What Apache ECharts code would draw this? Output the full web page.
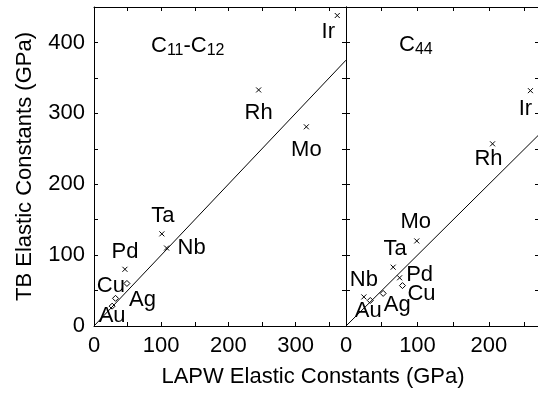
<!DOCTYPE html>
<html><head><meta charset="utf-8">
<script src="https://cdn.jsdelivr.net/npm/echarts@6/dist/echarts.min.js"></script>
<style>html,body{margin:0;padding:0;background:#fff}#c{width:538px;height:394px}</style>
</head><body><div id="c"></div>
<script>
// ---- data ----
const c11Elements = ['Ir','Rh','Mo','Ta','Nb','Pd','Cu','Ag','Au'];
const c11LAPW     = [362, 245, 316, 101, 108, 46, 49, 32, 27];
const c11TB       = [438, 333, 281, 130, 110, 80, 60, 39, 28];
const c44Elements = ['Ir','Rh','Mo','Ta','Pd','Cu','Ag','Nb','Au'];
const c44LAPW     = [258, 205, 99, 66, 75, 79, 52, 25, 34];
const c44TB       = [332, 257, 120, 83, 68, 57, 46, 41, 36];
const diamondElements = ['Cu','Ag','Au'];
const yTickLabels = [0, 100, 200, 300, 400];
const xTickLabelsLeft = [0, 100, 200, 300];
const xTickLabelsRight = [0, 100, 200];
const panelTitles = ['{c|C}{s|11}{c|-C}{s|12}', '{c|C}{s|44}'];

// ---- style (label offsets in px) ----
const leftOffsets = {Ir:[-9,16], Rh:[0,23], Mo:[0,23], Ta:[1,-18], Nb:[25,0], Pd:[0,-17], Cu:[-16,2], Ag:[27,2], Au:[0,10]};
const rightOffsets = {Ir:[-5,18], Rh:[-4,15], Mo:[-1,-19], Ta:[2,-18], Pd:[20,-3], Cu:[19,8], Ag:[14,12], Nb:[0,-17], Au:[-2,10]};

const FONT = 'Liberation Sans, Arial, Helvetica, sans-serif';
const X_PATH = 'path://M0,0L10,10M10,0L0,10';

function points(names, xs, ys, offsets) {
  return names.map((n, i) => {
    const dia = diamondElements.includes(n);
    return {
      name: n,
      value: [xs[i], ys[i]],
      symbol: dia ? 'diamond' : X_PATH,
      symbolSize: dia ? 6 : 5,
      itemStyle: dia ? {color:'#fff', borderColor:'#000', borderWidth:1, opacity: 1}
                     : {color:'none', borderColor:'#000', borderWidth:1, opacity: 1},
      label: {offset: offsets[n], color: '#000'}
    };
  });
}

function xAx(grid, max, pos, labels) {
  return {
    gridIndex: grid, type: 'value', min: 0, max: max, interval: 50, position: pos,
    axisLine: {onZero: false, lineStyle: {color: '#000', width: 1}},
    axisTick: {inside: true, length: 4, lineStyle: {color: '#000'}},
    axisLabel: labels ? {show: true, color: '#000', fontSize: 22, fontFamily: FONT, margin: 9,
      showMinLabel: true, showMaxLabel: true, hideOverlap: false,
      formatter: v => labels.includes(v) ? String(v) : ''} : {show: false},
    splitLine: {show: false}
  };
}
function yAx(grid, pos, labels, name) {
  const a = {
    gridIndex: grid, type: 'value', min: 0, max: 450, interval: 50, position: pos,
    axisLine: {onZero: false, lineStyle: {color: '#000', width: 1}},
    axisTick: {inside: true, length: 4, lineStyle: {color: '#000'}},
    axisLabel: labels ? {show: true, color: '#000', fontSize: 22, fontFamily: FONT, margin: 9,
      showMinLabel: true, showMaxLabel: true, hideOverlap: false,
      formatter: v => labels.includes(v) ? String(v) : ''} : {show: false},
    splitLine: {show: false}
  };
  if (name) {
    a.name = name; a.nameLocation = 'middle'; a.nameGap = 58;
    a.nameTextStyle = {color: '#000', fontSize: 22, fontFamily: FONT};
  }
  return a;
}

const labelStyle = {show: true, position: 'inside', formatter: '{b}', color: '#000',
  textBorderWidth: 0, fontSize: 22, fontFamily: FONT, align: 'center', verticalAlign: 'middle'};
const richT = {
  c: {fontSize: 22, fontFamily: FONT, fontWeight: 'normal', color: '#000', lineHeight: 26},
  s: {fontSize: 16, fontFamily: FONT, fontWeight: 'normal', color: '#000', lineHeight: 14, verticalAlign: 'bottom'}
};
const titleStyle = {color: '#000', fontWeight: 'normal', fontFamily: FONT, rich: richT};

const chart = echarts.init(document.getElementById('c'), null, {renderer: 'canvas'});
chart.setOption({
  animation: false,
  backgroundColor: '#fff',
  title: [
    {text: panelTitles[0], left: 146, top: 28, textStyle: titleStyle},
    {text: panelTitles[1], left: 394, top: 27, textStyle: titleStyle}
  ],
  grid: [
    {left: 94, top: 7, width: 252, height: 319, outerBoundsMode: 'none', containLabel: false},
    {left: 346, top: 7, width: 193, height: 319, outerBoundsMode: 'none', containLabel: false}
  ],
  xAxis: [
    xAx(0, 375, 'bottom', xTickLabelsLeft),
    xAx(0, 375, 'top', null),
    xAx(1, 270, 'bottom', xTickLabelsRight),
    xAx(1, 270, 'top', null)
  ],
  yAxis: [
    yAx(0, 'left', yTickLabels, 'TB Elastic Constants (GPa)'),
    yAx(0, 'right', null),
    yAx(1, 'left', null),
    yAx(1, 'right', null)
  ],
  graphic: [{
    type: 'text', x: 313, y: 377,
    style: {text: 'LAPW Elastic Constants (GPa)', fontSize: 22, fontFamily: FONT,
      fill: '#000', align: 'center', verticalAlign: 'middle'}
  }],
  series: [
    {type: 'line', xAxisIndex: 0, yAxisIndex: 0, data: [[0,0],[375,375]], symbol: 'none',
      lineStyle: {color: '#000', width: 1}, silent: true},
    {type: 'line', xAxisIndex: 2, yAxisIndex: 2, data: [[0,0],[270,270]], symbol: 'none',
      lineStyle: {color: '#000', width: 1}, silent: true},
    {type: 'scatter', xAxisIndex: 0, yAxisIndex: 0, label: labelStyle, itemStyle: {opacity: 1},
      data: points(c11Elements, c11LAPW, c11TB, leftOffsets)},
    {type: 'scatter', xAxisIndex: 2, yAxisIndex: 2, label: labelStyle, itemStyle: {opacity: 1},
      data: points(c44Elements, c44LAPW, c44TB, rightOffsets)}
  ]
});
</script></body></html>
